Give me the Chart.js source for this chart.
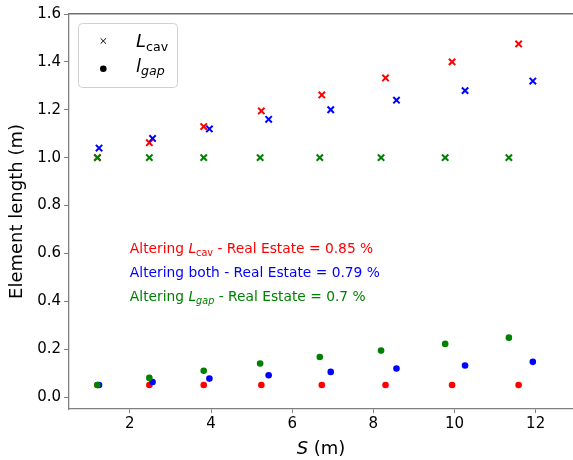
<!DOCTYPE html>
<html>
<head>
<meta charset="utf-8">
<script src="https://cdn.jsdelivr.net/npm/chart.js@4.4.1/dist/chart.umd.min.js"></script>
<style>
  html, body { margin: 0; padding: 0; background: #fff; overflow: hidden; }
  #chart { display: block; }
</style>
</head>
<body>
<canvas id="chart" width="573" height="460"></canvas>
<script>
// spacing S (m) per run, for each strategy
var sCav = [1.2, 2.48, 3.82, 5.24, 6.73, 8.30, 9.94, 11.58];
var sBoth = [1.24, 2.56, 3.96, 5.42, 6.95, 8.57, 10.26, 11.93];
var sGap = [1.2, 2.48, 3.82, 5.21, 6.68, 8.19, 9.77, 11.34];

// cavity length L_cav (m)
var lcavCav = [1.0, 1.0625, 1.13, 1.195, 1.262, 1.333, 1.40, 1.475];
var lcavBoth = [1.04, 1.08, 1.12, 1.16, 1.20, 1.24, 1.28, 1.32];
var lcavGap = [1.0, 1.0, 1.0, 1.0, 1.0, 1.0, 1.0, 1.0];

// gap length l_gap (m)
var lgapCav = [0.05, 0.05, 0.05, 0.05, 0.05, 0.05, 0.05, 0.05];
var lgapBoth = [0.05, 0.063, 0.077, 0.091, 0.105, 0.119, 0.132, 0.147];
var lgapGap = [0.05, 0.08, 0.11, 0.14, 0.167, 0.194, 0.222, 0.248];

// real estate figures quoted in the notes
var realEstate = ['0.85', '0.79', '0.7'];

var xTicks = [2, 4, 6, 8, 10, 12];
var yTicks = [0, 0.2, 0.4, 0.6, 0.8, 1.0, 1.2, 1.4, 1.6];

var RED = '#ff0000', BLUE = '#0000ff', GREEN = '#008000';
var FONT = '"DejaVu Sans", sans-serif';
var SPINE = '#808080';

function toPoints(xs, ys) {
    return xs.map(function (x, i) { return { x: x, y: ys[i] }; });
}

function crossSet(xs, ys, color, order) {
    return {
        data: toPoints(xs, ys),
        pointStyle: 'crossRot',
        pointRadius: 4.5,
        pointBorderWidth: 2,
        borderColor: color,
        backgroundColor: color,
        pointHoverRadius: 4.5,
        order: order
    };
}

function dotSet(xs, ys, color, order) {
    return {
        data: toPoints(xs, ys),
        pointStyle: 'circle',
        pointRadius: 3.3,
        pointBorderWidth: 0,
        borderColor: color,
        backgroundColor: color,
        pointHoverRadius: 3.3,
        order: order
    };
}

// draws a run of text pieces, some italic, some as subscripts
function drawMath(ctx, x, y, parts, size, color) {
    ctx.save();
    ctx.fillStyle = color;
    ctx.textAlign = 'left';
    ctx.textBaseline = 'alphabetic';
    parts.forEach(function (p) {
        var fs = p.sub ? size * 0.7 : size;
        ctx.font = (p.italic ? 'italic ' : '') + fs + 'px ' + FONT;
        ctx.fillText(p.t, x, y + (p.sub ? size * 0.2 : 0));
        x += ctx.measureText(p.t).width;
    });
    ctx.restore();
    return x;
}

function mathWidth(ctx, parts, size) {
    var w = 0;
    ctx.save();
    parts.forEach(function (p) {
        var fs = p.sub ? size * 0.7 : size;
        ctx.font = (p.italic ? 'italic ' : '') + fs + 'px ' + FONT;
        w += ctx.measureText(p.t).width;
    });
    ctx.restore();
    return w;
}

var notesPlugin = {
    id: 'notes',
    afterDraw: function (chart) {
        var ctx = chart.ctx;
        var xs = chart.scales.x, ys = chart.scales.y;
        var area = chart.chartArea;

        // strategy notes
        var notes = [
            { color: RED, y: 0.6, parts: [{ t: 'Altering ' }, { t: 'L', italic: true }, { t: 'cav', sub: true }, { t: ' - Real Estate = ' + realEstate[0] + ' %' }] },
            { color: BLUE, y: 0.5, parts: [{ t: 'Altering both - Real Estate = ' + realEstate[1] + ' %' }] },
            { color: GREEN, y: 0.4, parts: [{ t: 'Altering ' }, { t: 'L', italic: true }, { t: 'gap', sub: true, italic: true }, { t: ' - Real Estate = ' + realEstate[2] + ' %' }] }
        ];
        notes.forEach(function (n) {
            drawMath(ctx, xs.getPixelForValue(2), ys.getPixelForValue(n.y), n.parts, 13.8, n.color);
        });

        // legend box
        var bx = 78.5, by = 23.5, bw = 99, bh = 64;
        ctx.save();
        ctx.fillStyle = 'rgba(255,255,255,0.8)';
        ctx.strokeStyle = '#d0d0d0';
        ctx.lineWidth = 1;
        ctx.beginPath();
        ctx.roundRect(bx, by, bw, bh, 4);
        ctx.fill();
        ctx.stroke();
        ctx.restore();

        ctx.save();
        ctx.strokeStyle = '#000';
        Chart.helpers.drawPoint(ctx, { pointStyle: 'crossRot', radius: 3.8, borderWidth: 1.8 }, 103.3, 41);
        ctx.fillStyle = '#000';
        ctx.beginPath();
        ctx.arc(103.3, 68.7, 3.3, 0, Math.PI * 2);
        ctx.fill();
        ctx.restore();

        drawMath(ctx, 136, 47, [{ t: 'L', italic: true }, { t: 'cav', sub: true }], 18, '#000');
        drawMath(ctx, 136, 71.5, [{ t: 'l', italic: true }, { t: 'gap', sub: true, italic: true }], 18, '#000');

        // x axis title
        var title = [{ t: 'S', italic: true }, { t: ' (m)' }];
        var w = mathWidth(ctx, title, 18);
        drawMath(ctx, (area.left + area.right) / 2 - w / 2, 454, title, 18, '#000');
    }
};

var ctx = document.getElementById('chart');
var chart = new Chart(ctx, {
    type: 'scatter',
    data: {
        datasets: [
            crossSet(sCav, lcavCav, RED, 5),
            dotSet(sCav, lgapCav, RED, 4),
            crossSet(sBoth, lcavBoth, BLUE, 3),
            dotSet(sBoth, lgapBoth, BLUE, 2),
            crossSet(sGap, lcavGap, GREEN, 1),
            dotSet(sGap, lgapGap, GREEN, 0)
        ]
    },
    options: {
        responsive: false,
        animation: false,
        layout: { autoPadding: false, padding: { top: 14, right: 0, left: 0, bottom: 0 } },
        plugins: {
            legend: { display: false },
            tooltip: { enabled: false }
        },
        scales: {
            x: {
                type: 'linear',
                position: 'bottom',
                min: 0.5,
                max: 12.92,
                afterBuildTicks: function (scale) {
                    scale.ticks = xTicks.map(function (v) { return { value: v }; });
                },
                afterFit: function (scale) { scale.height = 51; },
                ticks: {
                    color: '#000',
                    font: { family: FONT, size: 15 },
                    padding: 2,
                    maxRotation: 0,
                    callback: function (v) { return String(v); }
                },
                grid: { drawOnChartArea: false, drawTicks: true, tickLength: 4, tickColor: SPINE, tickWidth: 1 },
                border: { display: true, color: SPINE, width: 1.3 }
            },
            xTop: {
                type: 'linear',
                position: 'top',
                min: 0.5,
                max: 12.92,
                afterFit: function (scale) { scale.height = 0; },
                ticks: { display: false },
                grid: { drawOnChartArea: false, drawTicks: false },
                border: { display: true, color: '#707070', width: 1.6 }
            },
            y: {
                type: 'linear',
                min: -0.05,
                max: 1.6,
                afterBuildTicks: function (scale) {
                    scale.ticks = yTicks.map(function (v) { return { value: v }; });
                },
                afterFit: function (scale) { scale.width = 69; },
                ticks: {
                    color: '#000',
                    font: { family: FONT, size: 15 },
                    padding: 3,
                    callback: function (v) { return v.toFixed(1); }
                },
                grid: { drawOnChartArea: false, drawTicks: true, tickLength: 5, tickColor: SPINE, tickWidth: 1 },
                border: { display: true, color: SPINE, width: 1.3 },
                title: {
                    display: true,
                    text: 'Element length (m)',
                    color: '#000',
                    font: { family: FONT, size: 18, lineHeight: 1 },
                    padding: { top: 8, bottom: 0 }
                }
            }
        }
    },
    plugins: [notesPlugin]
});
</script>
</body>
</html>
